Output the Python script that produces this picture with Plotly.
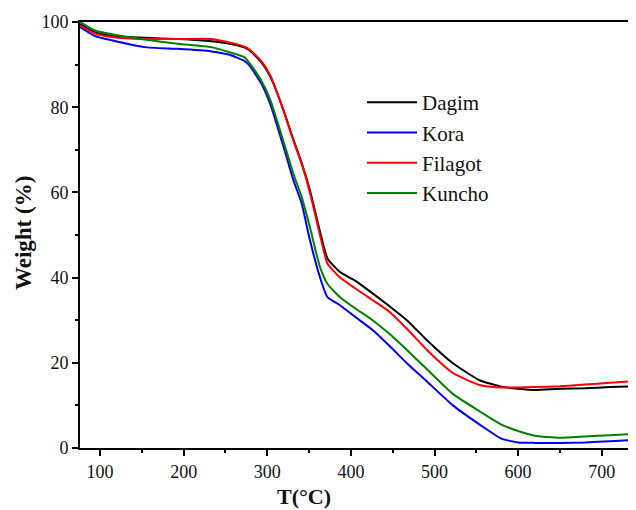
import plotly.graph_objects as go

temperature = [76, 94, 114, 153, 193, 233, 255, 273, 279, 293, 304, 319, 331, 341, 351, 363, 372,
               387, 405, 426, 446, 467, 491, 522, 554, 580, 600, 620, 650, 680, 710, 740]

dagim = [99.5, 97.6, 96.8, 96.3, 96.0, 95.5, 94.9, 94.0, 93.3, 90.5, 87.0, 79.5, 72.5, 67.0, 60.5, 50.8, 44.5,
         41.3, 39.3, 36.3, 33.3, 30.0, 25.3, 19.9, 15.9, 14.4, 13.9, 13.6, 13.9, 14.0, 14.3, 14.5]
kora = [98.8, 96.7, 95.7, 94.1, 93.7, 93.1, 92.3, 90.8, 89.7, 85.5, 80.5, 71.0, 63.0, 57.5, 48.8, 40.1, 35.4,
        33.5, 30.8, 27.7, 24.0, 19.9, 15.6, 10.0, 5.5, 2.2, 1.3, 1.2, 1.2, 1.3, 1.6, 1.9]
filagot = [99.2, 97.3, 96.5, 96.0, 96.0, 96.0, 95.2, 94.2, 93.5, 90.8, 87.3, 79.5, 72.3, 66.8, 60.0, 50.0, 43.3,
           40.0, 37.5, 34.7, 32.0, 28.0, 23.0, 17.6, 14.8, 14.2, 14.2, 14.3, 14.5, 14.9, 15.3, 15.7]
kuncho = [100.0, 98.0, 97.1, 95.9, 94.9, 94.1, 92.9, 91.7, 90.3, 86.2, 81.5, 72.2, 64.5, 59.0, 51.8, 42.5, 38.5,
          35.4, 32.8, 30.0, 26.8, 23.0, 18.5, 12.7, 8.6, 5.5, 4.0, 2.9, 2.4, 2.7, 3.0, 3.3]

series = [("Dagim", dagim, "#000000"), ("Kora", kora, "#0000ee"),
          ("Filagot", filagot, "#ff0000"), ("Kuncho", kuncho, "#008000")]

x_ticks = [100, 200, 300, 400, 500, 600, 700]
y_ticks = [0, 20, 40, 60, 80, 100]

SERIF = "Liberation Serif"

# page is offset by the 8px body margin; plot area spans page px x 80..636, y 22..448
PL, PR, PT, PB = 80, 636, 22, 448


def paper_x(px):
    return (px - PL) / (PR - PL)


def paper_y(py):
    return (PB - py) / (PB - PT)


fig = go.Figure()
for name, vals, col in series:
    fig.add_trace(go.Scatter(x=temperature, y=vals, mode="lines", name=name,
                             legendgroup=name,
                             line=dict(color=col, width=2, shape="spline", smoothing=0.5)))

fig.update_layout(
    width=628, height=502,
    margin=dict(l=72, r=0, t=14, b=62, pad=0),
    paper_bgcolor="white", plot_bgcolor="white",
    font=dict(family=SERIF, size=18, color="#111111"),
    showlegend=True,
    legend=dict(x=paper_x(362), y=paper_y(82), xanchor="left", yanchor="top",
                font=dict(family=SERIF, size=21, color="#111111"),
                bgcolor="rgba(0,0,0,0)", tracegroupgap=0, itemwidth=50),
    xaxis=dict(range=[76, 741], tickvals=x_ticks, showgrid=False, zeroline=False,
               showline=True, linecolor="black", linewidth=2, mirror=True,
               ticks="outside", ticklen=6, tickwidth=1.5, tickcolor="black",
               minor=dict(ticks="outside", ticklen=3, tickwidth=1.5, tickcolor="black", dtick=50, tick0=0),
               tickfont=dict(family=SERIF, size=18, color="#111111")),
    yaxis=dict(range=[0, 100], tickvals=y_ticks, showgrid=False, zeroline=False,
               showline=True, linecolor="black", linewidth=2,
               ticks="outside", ticklen=6, tickwidth=1.5, tickcolor="black",
               minor=dict(ticks="outside", ticklen=3, tickwidth=1.5, tickcolor="black", dtick=10, tick0=0),
               tickfont=dict(family=SERIF, size=18, color="#111111")),
    annotations=[
        dict(text="<b>T(°C)</b>", x=paper_x(304), y=paper_y(496), xref="paper", yref="paper",
             xanchor="center", yanchor="middle", showarrow=False,
             font=dict(family=SERIF, size=22, color="#111111")),
        dict(text="<b>Weight (%)</b>", x=paper_x(23), y=paper_y(233), xref="paper", yref="paper",
             xanchor="center", yanchor="middle", showarrow=False, textangle=-90,
             font=dict(family=SERIF, size=23, color="#111111")),
    ],
)

fig.write_html("out.html")
